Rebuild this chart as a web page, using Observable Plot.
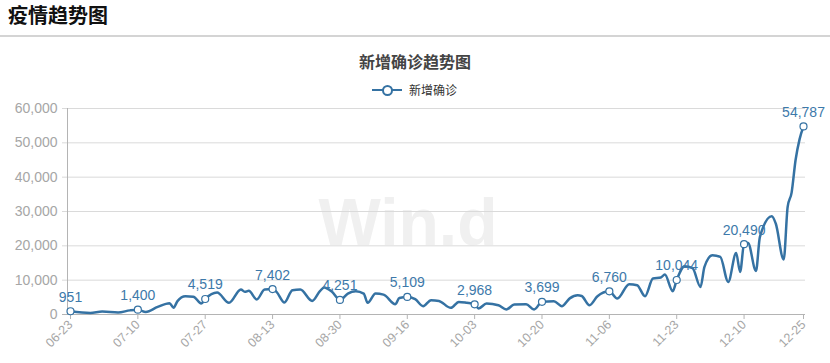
<!DOCTYPE html>
<html>
<head>
<meta charset="utf-8">
<script src="https://cdn.jsdelivr.net/npm/d3@7"></script>
<script src="https://cdn.jsdelivr.net/npm/@observablehq/plot@0.6"></script>
<style>
  body { margin: 0; background: #fff; }
  #page { position: relative; width: 830px; height: 363px; overflow: hidden; font-family: "Liberation Sans", Arial, sans-serif; }
  #header { position: absolute; left: 0; top: 0; width: 830px; height: 35px; border-bottom: 2px solid #d4d4d4; }
  #header span { position: absolute; left: 8px; top: 3px; font: bold 20px/24px "Noto Sans CJK SC", sans-serif; color: #111; }
  #title { position: absolute; left: 0; width: 830px; top: 51px; text-align: center; font: bold 16px/20px "Noto Sans CJK SC", sans-serif; color: #444; }
  #legend { position: absolute; left: 372px; top: 81px; height: 18px; }
  #legend .ln { position: absolute; left: 0; top: 8px; width: 30px; height: 2px; background: #3572a3; }
  #legend .ci { position: absolute; left: 10px; top: 4px; width: 7px; height: 7px; border: 2px solid #3572a3; border-radius: 50%; background: #fff; }
  #legend .tx { position: absolute; left: 37px; top: 0; white-space: nowrap; font: 12px/18px "Noto Sans CJK SC", sans-serif; color: #333; }
  #wm { position: absolute; left: 0; width: 816px; top: 186px; text-align: center; font: bold 66px/72px "Liberation Sans", Arial, sans-serif; color: #f0f0f0; }
  #chart { position: absolute; left: 0; top: 37px; }
</style>
</head>
<body>
<div id="page">
  <div id="header"><span>疫情趋势图</span></div>
  <div id="wm">Win.d</div>
  <div id="chart"></div>
  <div id="title">新增确诊趋势图</div>
  <div id="legend"><div class="ln"></div><div class="ci"></div><div class="tx">新增确诊</div></div>
</div>
<script>
const year = "2022";

// daily new confirmed cases (key points)
const pointDates = [
  "06-23","06-28","07-01","07-05","07-08","07-10","07-12","07-15","07-18","07-19",
  "07-20","07-22","07-24","07-26","07-27","07-30","08-02","08-05","08-06","08-07",
  "08-09","08-11","08-13","08-14","08-16","08-18","08-20","08-23","08-25","08-26",
  "08-28","08-30","09-01","09-03","09-05","09-06","09-08","09-10","09-13","09-14",
  "09-16","09-18","09-20","09-22","09-24","09-27","09-29","10-01","10-03","10-04",
  "10-06","10-09","10-11","10-13","10-16","10-18","10-20","10-23","10-25","10-27",
  "10-29","10-30","11-01","11-03","11-06","11-08","11-11","11-13","11-15","11-17",
  "11-19","11-20","11-22","11-23","11-25","11-27","11-29","11-30","12-02","12-04",
  "12-06","12-08","12-09","12-10","12-11","12-13","12-14","12-17","12-18","12-20",
  "12-21","12-22","12-23","12-24","12-25"
];
const pointValues = [
  951, 470, 850, 580, 1200, 1400, 760, 2200, 3300, 2000,
  3900, 5300, 5200, 3200, 4519, 6400, 3400, 7280, 6600, 6900,
  4370, 7280, 7402, 6600, 3500, 7080, 7280, 3960, 6870, 7860,
  6600, 4251, 6100, 6780, 6100, 3400, 6100, 5800, 3000, 4800,
  5109, 4460, 2420, 4170, 3960, 1940, 3670, 3400, 2968, 1750,
  3200, 2700, 1450, 2900, 3000, 1450, 3699, 3870, 2420, 4700,
  5600, 5400, 2700, 5330, 6760, 4660, 8830, 8540, 5330, 10490,
  10780, 11650, 6790, 10044, 14070, 13500, 8040, 13870, 17270, 16780,
  9500, 17940, 12410, 20490, 20860, 12700, 22600, 28630, 26500, 16020,
  31340, 35500, 45000, 51000, 54787
];

// x-axis tick labels and the labelled values on those days
const tickLabels = ["06-23","07-10","07-27","08-13","08-30","09-16","10-03","10-20","11-06","11-23","12-10","12-25"];
const labelValues = [951, 1400, 4519, 7402, 4251, 5109, 2968, 3699, 6760, 10044, 20490, 54787];

// y-axis ticks
const yTicks = [0, 10000, 20000, 30000, 40000, 50000, 60000];

const parse = s => new Date(`${year}-${s}T00:00:00Z`);
const fmt = d3.format(",");
const data = pointDates.map((d, i) => ({date: parse(d), value: pointValues[i]}));
const labels = tickLabels.map((d, i) => ({date: parse(d), value: labelValues[i], text: fmt(labelValues[i])}));
const xTicks = tickLabels.map(parse);

const blue = "#3572a3";
const grey = "#a6a6a6";

const chart = Plot.plot({
  width: 830,
  height: 326,
  marginLeft: 70,
  marginRight: 27,
  marginTop: 71,
  marginBottom: 49,
  style: {fontFamily: "'Liberation Sans', Arial, sans-serif", background: "transparent", overflow: "visible"},
  x: {type: "utc", domain: [xTicks[0], xTicks[xTicks.length - 1]], label: null},
  y: {domain: [0, 60000], label: null},
  marks: [
    Plot.ruleY(yTicks.slice(1), {stroke: "#dadada", strokeWidth: 1, insetLeft: -8, insetRight: -2}),
    Plot.ruleX([xTicks[0]], {stroke: "#b4b4b4", strokeWidth: 1, dx: -3}),
    Plot.ruleY([0], {stroke: "#b4b4b4", strokeWidth: 1, insetLeft: -8, insetRight: -2}),
    Plot.axisY({ticks: yTicks, tickFormat: d => fmt(d), label: null, tickSize: 0, tickPadding: 13, fontSize: 14, fill: grey}),
    Plot.axisX({ticks: xTicks, tickFormat: d3.utcFormat("%m-%d"), label: null, tickRotate: -45, tickSize: 5, tickPadding: 3, fontSize: 12.5, fill: grey, stroke: "#b4b4b4"}),
    Plot.line(data, {x: "date", y: "value", stroke: blue, strokeWidth: 2.5, curve: "monotone-x"}),
    Plot.dot(labels, {x: "date", y: "value", r: 3.5, fill: "white", stroke: blue, strokeWidth: 1.2}),
    Plot.text(labels, {x: "date", y: "value", text: "text", dy: -14, fontSize: 14, fill: "#3d79aa"})
  ]
});
document.getElementById("chart").appendChild(chart);
</script>
</body>
</html>
